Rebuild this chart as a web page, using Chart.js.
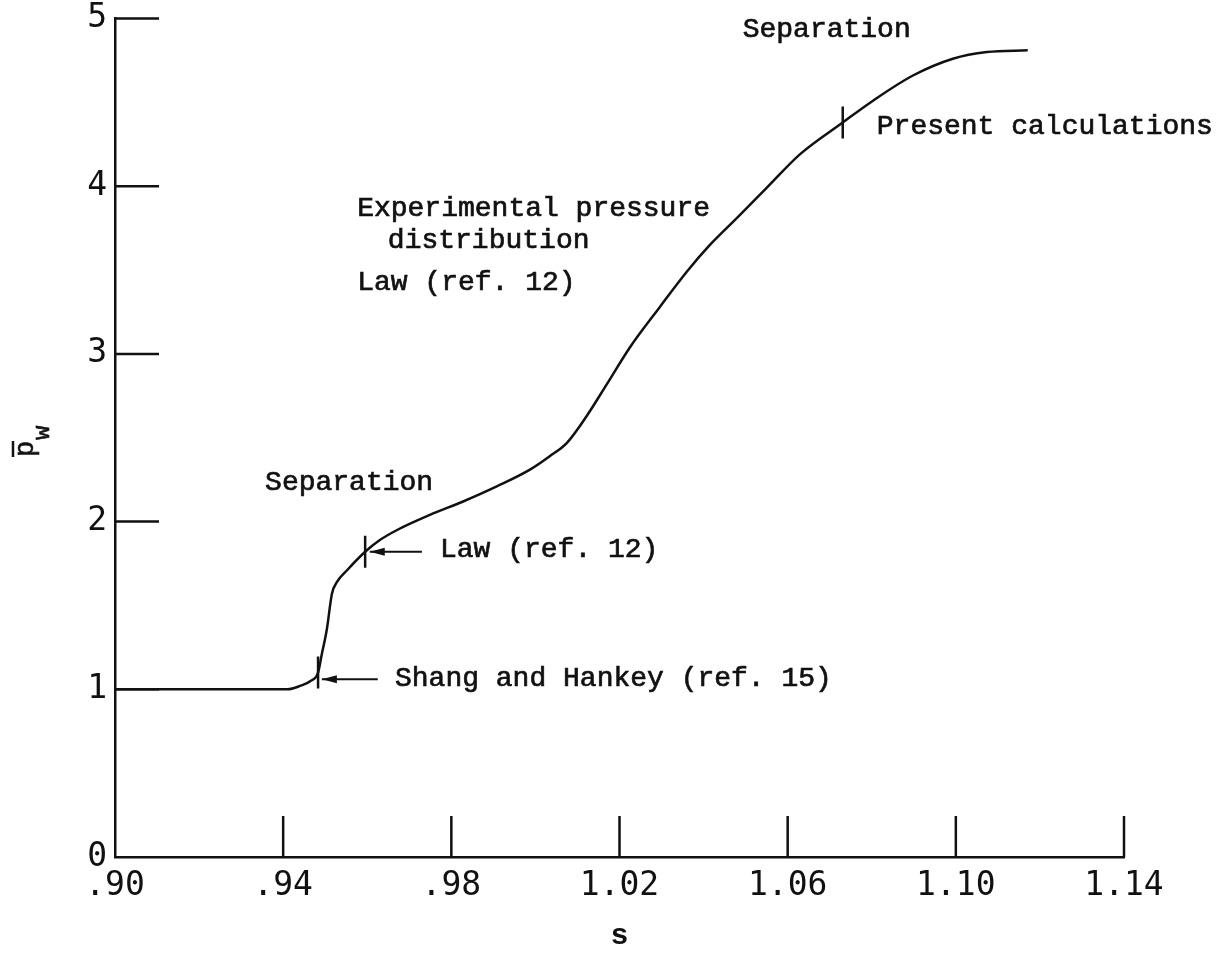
<!DOCTYPE html>
<html>
<head>
<meta charset="utf-8">
<script src="https://cdn.jsdelivr.net/npm/chart.js@4"></script>
<style>
  html, body { margin: 0; padding: 0; background: #fff; }
</style>
</head>
<body>
<canvas id="pressureChart" width="1221" height="954"></canvas>
<script>
// wall pressure along the surface
const sValues = [0.900, 0.930, 0.9410, 0.9440, 0.9465, 0.9483, 0.9492, 0.9504, 0.9516, 0.9528,
  0.9552, 0.9595, 0.9630, 0.9671, 0.9749, 0.9828, 0.9908, 0.9987, 1.0034, 1.0075,
  1.0122, 1.0170, 1.0225, 1.0296, 1.0360, 1.0415, 1.0479, 1.0550, 1.0629, 1.0731,
  1.0803, 1.0898, 1.0993, 1.1074, 1.1171];
const pValues = [1.00, 1.00, 1.00, 1.02, 1.05, 1.10, 1.21, 1.36, 1.57, 1.64,
  1.71, 1.82, 1.89, 1.95, 2.04, 2.12, 2.21, 2.31, 2.39, 2.47,
  2.63, 2.82, 3.04, 3.28, 3.49, 3.65, 3.81, 3.99, 4.19, 4.38,
  4.51, 4.66, 4.76, 4.80, 4.81];

// separation marks on the curve
const markerS = [0.9483, 0.9595, 1.0731];
const markerP = [1.10, 1.82, 4.38];

const xTicks = [0.90, 0.94, 0.98, 1.02, 1.06, 1.10, 1.14];
const xTickLabels = [".90", ".94", ".98", "1.02", "1.06", "1.10", "1.14"];
const yTicks = [0, 1, 2, 3, 4, 5];
const yTickLabels = ["0", "1", "2", "3", "4", "5"];

// text notes (left edge s, baseline p)
const noteTexts = ["Separation", "Present calculations", "Experimental pressure", "distribution",
  "Law (ref. 12)", "Separation", "Law (ref. 12)", "Shang and Hankey (ref. 15)"];
const noteS = [1.0493, 1.0812, 0.9576, 0.9649, 0.9576, 0.9357, 0.9773, 0.9666];
const noteP = [4.89, 4.31, 3.82, 3.63, 3.38, 2.19, 1.79, 1.02];

// arrows pointing at the marks
const arrowFromS = [0.9730, 0.9625];
const arrowToS = [0.9606, 0.9492];
const arrowP = [1.82, 1.06];

const ink = "#111";

const insideTicks = {
  id: "insideTicks",
  afterDraw(chart) {
    const ctx = chart.ctx;
    const x = chart.scales.x;
    const y = chart.scales.y;
    ctx.save();
    ctx.strokeStyle = ink;
    ctx.lineWidth = 2.5;
    ctx.beginPath();
    xTicks.slice(1).forEach((v) => {
      const px = x.getPixelForValue(v);
      ctx.moveTo(px, y.bottom);
      ctx.lineTo(px, y.bottom - 41);
    });
    yTicks.slice(1).forEach((v) => {
      const py = y.getPixelForValue(v);
      ctx.moveTo(x.left, py);
      ctx.lineTo(x.left + 44, py);
    });
    ctx.stroke();
    ctx.restore();
  },
};

const notesPlugin = {
  id: "notes",
  afterDraw(chart) {
    const ctx = chart.ctx;
    const x = chart.scales.x;
    const y = chart.scales.y;
    ctx.save();
    ctx.fillStyle = ink;
    ctx.strokeStyle = ink;
    ctx.font = "28px 'Liberation Mono'";
    ctx.textBaseline = "alphabetic";
    ctx.textAlign = "left";
    ctx.lineWidth = 0.7;
    noteTexts.forEach((t, i) => {
      const px = x.getPixelForValue(noteS[i]);
      const py = y.getPixelForValue(noteP[i]);
      ctx.fillText(t, px, py);
      ctx.strokeText(t, px, py);
    });

    // arrows
    ctx.lineWidth = 2;
    arrowP.forEach((p, i) => {
      const x0 = x.getPixelForValue(arrowFromS[i]);
      const x1 = x.getPixelForValue(arrowToS[i]);
      const py = y.getPixelForValue(p);
      ctx.beginPath();
      ctx.moveTo(x0, py);
      ctx.lineTo(x1, py);
      ctx.stroke();
      ctx.beginPath();
      ctx.moveTo(x1, py);
      ctx.lineTo(x1 + 15, py - 4);
      ctx.lineTo(x1 + 15, py + 4);
      ctx.closePath();
      ctx.fill();
    });

    // y axis title: p with bar, subscript w, rotated
    ctx.translate(33, 457);
    ctx.rotate(-Math.PI / 2);
    ctx.lineWidth = 0.6;
    ctx.font = "27px 'Liberation Mono'";
    ctx.fillText("p", 0, 0);
    ctx.strokeText("p", 0, 0);
    ctx.font = "24px 'Liberation Mono'";
    ctx.fillText("w", 17, 16);
    ctx.strokeText("w", 17, 16);
    ctx.lineWidth = 2.5;
    ctx.beginPath();
    ctx.moveTo(0, -20);
    ctx.lineTo(16, -20);
    ctx.stroke();
    ctx.restore();
  },
};

const ctx = document.getElementById("pressureChart").getContext("2d");
new Chart(ctx, {
  type: "line",
  data: {
    datasets: [
      {
        label: "Present calculations",
        data: sValues.map((s, i) => ({ x: s, y: pValues[i] })),
        borderColor: ink,
        borderWidth: 2.5,
        pointRadius: 0,
        cubicInterpolationMode: "monotone",
        fill: false,
      },
      {
        type: "scatter",
        label: "Separation",
        data: markerS.map((s, i) => ({ x: s, y: markerP[i] })),
        pointStyle: "line",
        rotation: 90,
        radius: 16,
        borderColor: ink,
        borderWidth: 2.5,
      },
    ],
  },
  options: {
    responsive: false,
    animation: false,
    layout: { padding: { left: 0, right: 97, top: 12, bottom: 0 } },
    plugins: {
      legend: { display: false },
      tooltip: { enabled: false },
      title: { display: false },
    },
    scales: {
      x: {
        type: "linear",
        min: 0.90,
        max: 1.14,
        grid: { display: false, drawTicks: false },
        border: { display: true, color: ink, width: 2.5 },
        afterBuildTicks: (scale) => {
          scale.ticks = xTicks.map((v) => ({ value: v }));
        },
        afterFit: (scale) => {
          scale.height = 97;
          scale.paddingLeft = 0;
          scale.paddingRight = 0;
        },
        ticks: {
          color: ink,
          padding: 10,
          maxRotation: 0,
          autoSkip: false,
          font: { family: "'DejaVu Sans Mono'", size: 33 },
          callback: (value, index) => xTickLabels[index],
        },
        title: {
          display: true,
          text: "s",
          color: ink,
          font: { family: "'Liberation Mono'", size: 30, weight: "bold" },
          padding: { top: 0, bottom: 0 },
        },
      },
      y: {
        type: "linear",
        min: 0,
        max: 5,
        grid: { display: false, drawTicks: false },
        border: { display: true, color: ink, width: 2.5 },
        afterBuildTicks: (scale) => {
          scale.ticks = yTicks.map((v) => ({ value: v }));
        },
        afterFit: (scale) => {
          scale.width = 115;
          scale.paddingTop = 0;
          scale.paddingBottom = 0;
        },
        ticks: {
          color: ink,
          padding: 8,
          font: { family: "'DejaVu Sans Mono'", size: 33 },
          callback: (value, index) => yTickLabels[index],
        },
      },
    },
  },
  plugins: [insideTicks, notesPlugin],
});
</script>
</body>
</html>
